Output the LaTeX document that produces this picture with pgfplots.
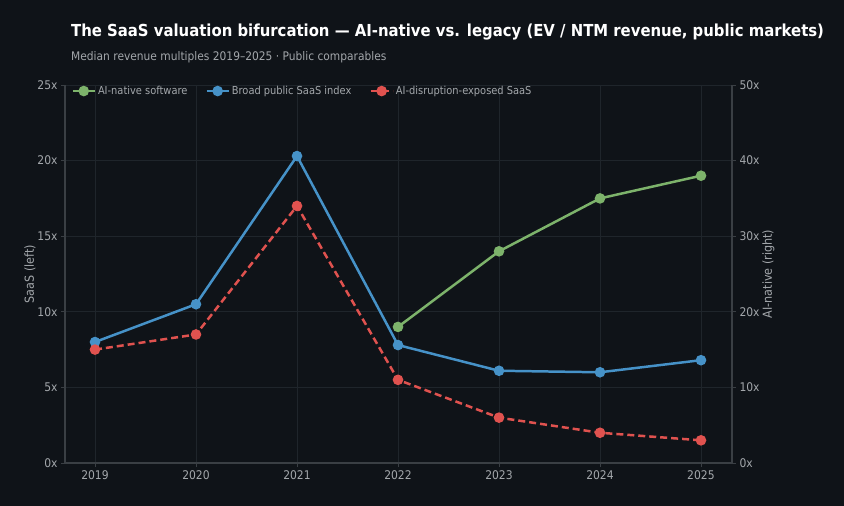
\documentclass[border=0pt]{standalone}
\usepackage{pgfplots}
\pgfplotsset{compat=1.18}
\usepackage{fontspec}
\setmainfont{DejaVu Sans Condensed}
\definecolor{bg}{HTML}{0F1318}
\definecolor{gridc}{HTML}{1F252B}
\definecolor{spine}{HTML}{3A3F44}
\definecolor{txt}{HTML}{A3A7AB}
\definecolor{cblue}{HTML}{4692C8}
\definecolor{cgreen}{HTML}{7DB36B}
\definecolor{cred}{HTML}{E0524F}
\begin{document}
\begin{tikzpicture}[x=1bp,y=1bp]
\useasboundingbox (0,0) rectangle (844,506);
\fill[bg] (0,0) rectangle (844,506);
\node[anchor=west,text=white,font=\fontsize{16.6}{18}\selectfont\bfseries,inner sep=0] at (71,474) {The SaaS valuation bifurcation — AI-native vs. legacy (EV / NTM revenue, public markets)};
\node[anchor=west,text=txt,font=\fontsize{11.9}{13}\selectfont,inner sep=0] at (71,449) {Median revenue multiples 2019–2025 · Public comparables};
\begin{axis}[
  at={(65bp,43bp)}, anchor=south west,
  scale only axis, width=667bp, height=378bp,
  xmin=2018.703, xmax=2025.307, ymin=0, ymax=25,
  xtick={2019,...,2025},
  xticklabel style={/pgf/number format/1000 sep={}},
  ytick={0,5,10,15,20,25},
  yticklabel={\pgfmathprintnumber{\tick}x},
  /pgf/number format/assume math mode=true,
  tick label style={text=txt,font=\fontsize{12}{14}\selectfont},
  ylabel={SaaS (left)}, ylabel style={text=txt,font=\fontsize{12.5}{14}\selectfont,yshift=-5bp},
  axis y line*=left, axis x line*=bottom,
  axis line style={spine,line width=1.2pt,-},
  tick style={spine,line width=0.8pt},
  tick align=outside, major tick length=4bp,
  grid=major, major grid style={gridc,line width=0.7pt},
  legend style={at={(0.005,0.984)},anchor=west,draw=none,fill=none,
    text=txt,font=\fontsize{11}{13}\selectfont,legend columns=-1,
    /tikz/every even column/.append style={column sep=16bp}},
  legend cell align=left,
  legend image code/.code={\draw[mark repeat=2,mark phase=2] plot coordinates {(0bp,0bp) (11bp,0bp) (22bp,0bp)};},
]
\addlegendimage{cgreen,line width=2.5pt,mark=*,mark size=4pt}
\addlegendentry{AI-native software}
\addplot[cblue,line width=2.5pt,mark=*,mark size=4pt] coordinates {
(2019,8.0) (2020,10.5) (2021,20.3) (2022,7.8) (2023,6.1) (2024,6.0) (2025,6.8)};
\addlegendentry{Broad public SaaS index}
\addplot[cred,line width=2.5pt,dash pattern=on 7bp off 4bp,mark=*,mark size=4pt,mark options={solid}] coordinates {
(2019,7.5) (2020,8.5) (2021,17.0) (2022,5.5) (2023,3.0) (2024,2.0) (2025,1.5)};
\addlegendentry{AI-disruption-exposed SaaS}
\end{axis}
\begin{axis}[
  at={(65bp,43bp)}, anchor=south west,
  scale only axis, width=667bp, height=378bp,
  xmin=2018.703, xmax=2025.307, ymin=0, ymax=50,
  axis x line=none, axis y line*=right,
  ytick={0,10,20,30,40,50},
  yticklabel={\pgfmathprintnumber{\tick}x},
  /pgf/number format/assume math mode=true,
  tick label style={text=txt,font=\fontsize{12}{14}\selectfont},
  ylabel={AI-native (right)}, ylabel style={text=txt,font=\fontsize{12.5}{14}\selectfont,yshift=4bp},
  axis line style={spine,line width=1.2pt,-},
  tick style={spine,line width=0.8pt},
  tick align=outside, major tick length=4bp,
]
\addplot[cgreen,line width=2.5pt,mark=*,mark size=4pt] coordinates {
(2022,18) (2023,28) (2024,35) (2025,38)};
\end{axis}
\end{tikzpicture}
\end{document}
